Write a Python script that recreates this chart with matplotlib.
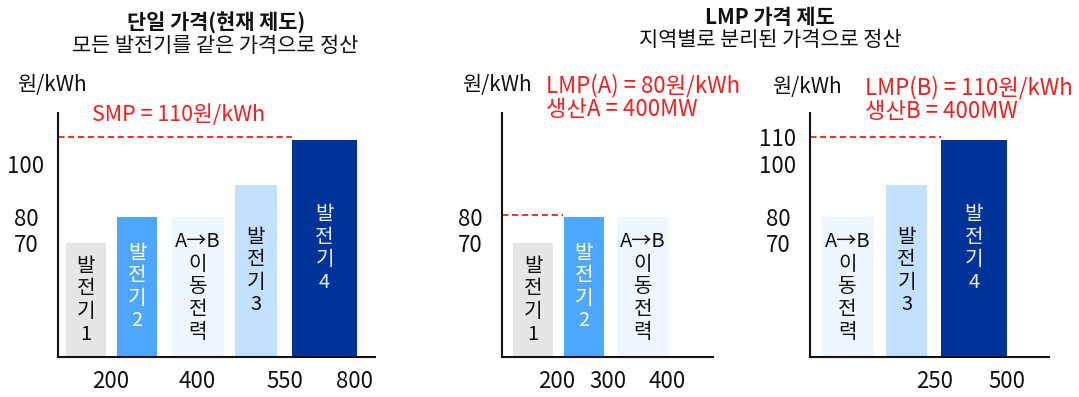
import matplotlib
matplotlib.use("Agg")
import matplotlib.pyplot as plt
import numpy as np

plt.rcParams['font.family'] = ['Noto Sans CJK KR', 'DejaVu Sans']

# ---------------- data ----------------
# Panel 1: single price (SMP)
p1_labels = ["발전기1", "발전기2", "A→B이동전력", "발전기3", "발전기4"]
p1_prices = [70, 80, 80, 92, 109]
p1_xticklabels = ["200", "400", "550", "800"]
p1_yticks = [70, 80, 100]
smp_price = 110

# Panel 2: LMP region A
p2_labels = ["발전기1", "발전기2", "A→B이동전력"]
p2_prices = [70, 80, 80]
p2_xticklabels = ["200", "300", "400"]
p2_yticks = [70, 80]
lmp_a = 80

# Panel 3: LMP region B
p3_labels = ["A→B이동전력", "발전기3", "발전기4"]
p3_prices = [80, 92, 109]
p3_xticklabels = ["250", "500"]
p3_yticks = [70, 80, 100, 110]
lmp_b = 110

# ---------------- layout (pixels) ----------------
W, H = 1079, 397
fig = plt.figure(figsize=(W / 100, H / 100), dpi=100)

AX_TOP, AX_BOT = 113, 357
YMIN, YMAX = 27.2, 119.2

C_GRAY = "#E6E6E6"
C_MID = "#4DA6FF"
C_PALE = "#EEF6FF"
C_LIGHT = "#C2E0FF"
C_DARK = "#003399"
RED = "#FF1A1A"
TXT = "#111111"
DASH = (0, (3.5, 2))

def make_ax(x0, x1):
    ax = fig.add_axes([x0 / W, 1 - AX_BOT / H, (x1 - x0) / W, (AX_BOT - AX_TOP) / H])
    ax.set_xlim(0, x1 - x0)
    ax.set_ylim(YMIN, YMAX)
    for s in ("top", "right"):
        ax.spines[s].set_visible(False)
    for s in ("left", "bottom"):
        ax.spines[s].set_linewidth(1.5)
        ax.spines[s].set_color("#111111")
    return ax

def vtext(label):
    if label.startswith("A→B"):
        return "A→B\n" + "\n".join(label[3:])
    return "\n".join(label)

def draw_panel(ax, labels, prices, centers, widths, colors, tcolors,
               tickpos, ticklabels, yticks):
    ax.bar(centers, prices, width=widths, bottom=0, color=colors, linewidth=0)
    for c, p, lab, tc in zip(centers, prices, labels, tcolors):
        ax.text(c, (YMIN + p) / 2, vtext(lab), ha="center", va="center",
                fontsize=14.5, color=tc, linespacing=1.1)
    ax.set_xticks(tickpos)
    ax.set_xticklabels(ticklabels, fontsize=16, color=TXT)
    ax.set_yticks(yticks)
    ax.set_yticklabels([str(v) for v in yticks], fontsize=16, color=TXT)
    ax.tick_params(axis="x", length=0, pad=18)
    ax.tick_params(axis="y", length=0, pad=23)
    for t in ax.get_yticklabels():
        t.set_horizontalalignment("center")
    for t in ax.get_xticklabels():
        t.set_verticalalignment("center")

# Panel 1
ax1 = make_ax(58, 375)
draw_panel(ax1, p1_labels, p1_prices,
           centers=[28, 79, 140, 198, 266.5], widths=[40, 40, 52, 42, 65],
           colors=[C_GRAY, C_MID, C_PALE, C_LIGHT, C_DARK],
           tcolors=[TXT, "white", TXT, TXT, "#E8EEFF"],
           tickpos=[53, 139, 227, 297], ticklabels=p1_xticklabels, yticks=p1_yticks)
ax1.plot([0, 234], [smp_price, smp_price], color=RED, lw=1.3, ls=DASH, clip_on=False)

# Panel 2
ax2 = make_ax(502, 713)
draw_panel(ax2, p2_labels, p2_prices,
           centers=[31, 82, 141], widths=[40, 40, 52],
           colors=[C_GRAY, C_MID, C_PALE],
           tcolors=[TXT, "white", TXT],
           tickpos=[55, 106, 165], ticklabels=p2_xticklabels, yticks=p2_yticks)
ax2.plot([0, 61], [lmp_a + 0.8, lmp_a + 0.8], color=RED, lw=1.3, ls=DASH, clip_on=False)

# Panel 3
ax3 = make_ax(810, 1049)
draw_panel(ax3, p3_labels, p3_prices,
           centers=[37.5, 96.5, 164], widths=[53, 41, 66],
           colors=[C_PALE, C_LIGHT, C_DARK],
           tcolors=[TXT, TXT, "#E8EEFF"],
           tickpos=[125, 197], ticklabels=p3_xticklabels, yticks=p3_yticks)
ax3.plot([0, 131], [lmp_b, lmp_b], color=RED, lw=1.3, ls=DASH, clip_on=False)

# ---------------- texts ----------------
def ftext(x, y, s, **kw):
    fig.text(x / W, 1 - y / H, s, **kw)

ftext(216, 22, "단일 가격(현재 제도)", ha="center", va="center", fontsize=15, fontweight="bold", color=TXT)
ftext(215, 46, "모든 발전기를 같은 가격으로 정산", ha="center", va="center", fontsize=15, color=TXT)
ftext(770, 17, "LMP 가격 제도", ha="center", va="center", fontsize=15, fontweight="bold", color=TXT)
ftext(770, 40, "지역별로 분리된 가격으로 정산", ha="center", va="center", fontsize=15, color=TXT)

ftext(17, 85, "원/kWh", ha="left", va="center", fontsize=15, color=TXT)
ftext(92, 115, f"SMP = {smp_price}원/kWh", ha="left", va="center", fontsize=15.5, color=RED)

ftext(462, 85, "원/kWh", ha="left", va="center", fontsize=15, color=TXT)
ftext(546, 86, f"LMP(A) = {lmp_a}원/kWh", ha="left", va="center", fontsize=16, color=RED)
ftext(546, 109, "생산A = 400MW", ha="left", va="center", fontsize=16, color=RED)

ftext(772, 87, "원/kWh", ha="left", va="center", fontsize=15, color=TXT)
ftext(865, 88, f"LMP(B) = {lmp_b}원/kWh", ha="left", va="center", fontsize=16, color=RED)
ftext(865, 112, "생산B = 400MW", ha="left", va="center", fontsize=16, color=RED)

fig.savefig("out.png", dpi=100)
